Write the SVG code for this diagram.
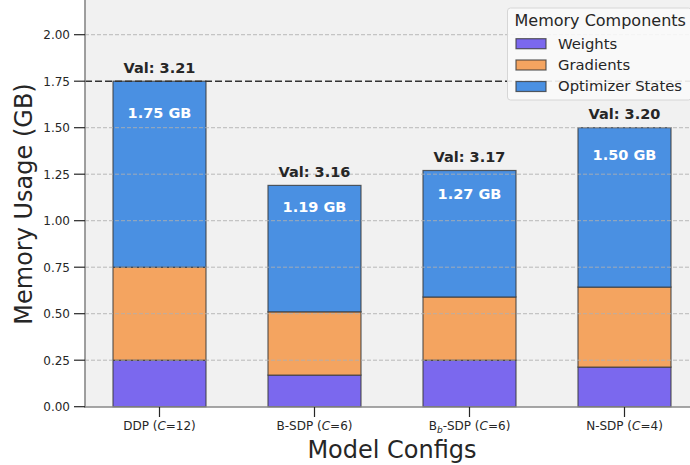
<svg xmlns="http://www.w3.org/2000/svg" width="690" height="465" viewBox="0 0 690 465">
<style>
text{font-family:"DejaVu Sans","Liberation Sans",sans-serif;fill:#262626}
.tick{font-size:12px}
.yt{text-anchor:end}
.xt{text-anchor:middle}
.grid{stroke:#b0b0b0;stroke-width:1;stroke-dasharray:4 2;opacity:0.85}
.w{fill:#7B68EE}
.g{fill:#F4A460}
.o{fill:#4A90E2}
.seg{stroke:#3a3a3a;stroke-width:1.2;stroke-opacity:0.8}
.val{font-size:14.5px;font-weight:bold;text-anchor:middle}
.gb{font-size:14.5px;font-weight:bold;text-anchor:middle;fill:#ffffff}
.lg{font-size:14.8px}
.tm{stroke:#262626;stroke-width:1.2}
</style>
<rect x="0" y="0" width="690" height="465" fill="#ffffff"/>
<rect x="85" y="0" width="605" height="407" fill="#f1f1f1"/>

<g id="bar-ddp">
<rect class="w seg" x="113" y="360.2" width="93" height="46.5"/>
<rect class="g seg" x="113" y="267.2" width="93" height="93"/>
<rect class="o seg" x="113" y="81.2" width="93" height="186"/>
</g>
<g id="bar-bsdp">
<rect class="w seg" x="268" y="375.1" width="93" height="31.6"/>
<rect class="g seg" x="268" y="311.8" width="93" height="63.3"/>
<rect class="o seg" x="268" y="185.4" width="93" height="126.4"/>
</g>
<g id="bar-bbsdp">
<rect class="w seg" x="423" y="360.2" width="93" height="46.5"/>
<rect class="g seg" x="423" y="297" width="93" height="63.2"/>
<rect class="o seg" x="423" y="170.5" width="93" height="126.5"/>
</g>
<g id="bar-nsdp">
<rect class="w seg" x="578" y="367.1" width="93" height="39.6"/>
<rect class="g seg" x="578" y="287.1" width="93" height="80"/>
<rect class="o seg" x="578" y="127.7" width="93" height="159.4"/>
</g>

<g id="grid">
<line class="grid" x1="85" y1="360.2" x2="690" y2="360.2"/>
<line class="grid" x1="85" y1="313.7" x2="690" y2="313.7"/>
<line class="grid" x1="85" y1="267.2" x2="690" y2="267.2"/>
<line class="grid" x1="85" y1="220.7" x2="690" y2="220.7"/>
<line class="grid" x1="85" y1="174.2" x2="690" y2="174.2"/>
<line class="grid" x1="85" y1="127.7" x2="690" y2="127.7"/>
<line class="grid" x1="85" y1="34.7" x2="690" y2="34.7"/>
</g>

<g id="connectors">
<line x1="85" y1="81.2" x2="690" y2="81.2" stroke="#333333" stroke-width="1.6" stroke-dasharray="7 3"/>
</g>

<g id="labels">
<text class="val" x="159.5" y="72.7">Val: 3.21</text>
<text class="val" x="314.5" y="176.9">Val: 3.16</text>
<text class="val" x="469.5" y="162">Val: 3.17</text>
<text class="val" x="624.5" y="119.2">Val: 3.20</text>
<text class="gb" x="159.5" y="118.3">1.75 GB</text>
<text class="gb" x="314.5" y="212">1.19 GB</text>
<text class="gb" x="469.5" y="198.6">1.27 GB</text>
<text class="gb" x="624.5" y="160.1">1.50 GB</text>
</g>

<g id="axes">
<line x1="85" y1="0" x2="85" y2="407.5" stroke="#888888" stroke-width="1.6"/>
<line x1="84.2" y1="407" x2="690" y2="407" stroke="#888888" stroke-width="1.6"/>
<g class="tm">
<line x1="74" y1="406.7" x2="85" y2="406.7"/>
<line x1="74" y1="360.2" x2="85" y2="360.2"/>
<line x1="74" y1="313.7" x2="85" y2="313.7"/>
<line x1="74" y1="267.2" x2="85" y2="267.2"/>
<line x1="74" y1="220.7" x2="85" y2="220.7"/>
<line x1="74" y1="174.2" x2="85" y2="174.2"/>
<line x1="74" y1="127.7" x2="85" y2="127.7"/>
<line x1="74" y1="81.2" x2="85" y2="81.2"/>
<line x1="74" y1="34.7" x2="85" y2="34.7"/>
<line x1="159.5" y1="407" x2="159.5" y2="417"/>
<line x1="314.5" y1="407" x2="314.5" y2="417"/>
<line x1="469.5" y1="407" x2="469.5" y2="417"/>
<line x1="624.5" y1="407" x2="624.5" y2="417"/>
</g>
<text class="tick yt" x="70" y="411">0.00</text>
<text class="tick yt" x="70" y="364.5">0.25</text>
<text class="tick yt" x="70" y="318">0.50</text>
<text class="tick yt" x="70" y="271.5">0.75</text>
<text class="tick yt" x="70" y="225">1.00</text>
<text class="tick yt" x="70" y="178.5">1.25</text>
<text class="tick yt" x="70" y="132">1.50</text>
<text class="tick yt" x="70" y="85.5">1.75</text>
<text class="tick yt" x="70" y="39">2.00</text>
<text class="tick xt" x="159.5" y="430">DDP (<tspan font-style="italic">C</tspan>=12)</text>
<text class="tick xt" x="314.5" y="430">B-SDP (<tspan font-style="italic">C</tspan>=6)</text>
<text class="tick xt" x="469.5" y="430">B<tspan font-style="italic" font-size="9" dy="3">b</tspan><tspan dy="-3">-SDP (</tspan><tspan font-style="italic">C</tspan>=6)</text>
<text class="tick xt" x="624.5" y="430">N-SDP (<tspan font-style="italic">C</tspan>=4)</text>
<text x="392" y="458" font-size="24" text-anchor="middle">Model Configs</text>
<text transform="translate(32,204) rotate(-90)" font-size="24" text-anchor="middle">Memory Usage (GB)</text>
</g>

<g id="legend">
<rect x="507.5" y="8" width="184" height="92" rx="3" fill="#fafafa" fill-opacity="0.9" stroke="#d6d6d6" stroke-width="1"/>
<text x="514.5" y="26" font-size="16">Memory Components</text>
<rect class="w seg" x="516" y="38.7" width="30" height="10"/>
<rect class="g seg" x="516" y="60" width="30" height="10"/>
<rect class="o seg" x="516" y="81.5" width="30" height="10"/>
<text class="lg" x="558" y="48.5">Weights</text>
<text class="lg" x="558" y="69.5">Gradients</text>
<text class="lg" x="558" y="90.5">Optimizer States</text>
</g>
</svg>
